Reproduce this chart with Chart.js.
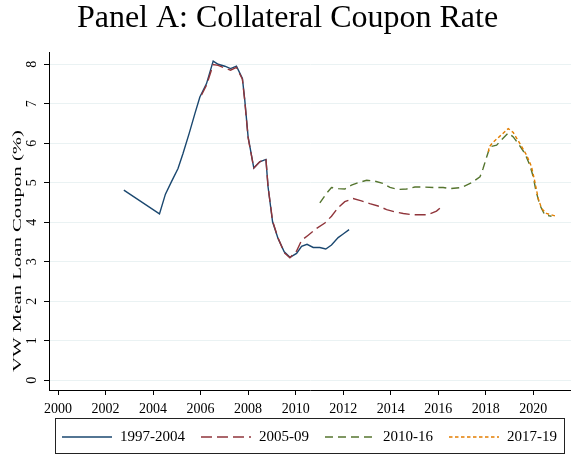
<!DOCTYPE html>
<html>
<head>
<meta charset="utf-8">
<script src="https://cdn.jsdelivr.net/npm/chart.js@4"></script>
<style>
html,body{margin:0;padding:0;background:#fff;}
canvas{display:block;}
</style>
</head>
<body>
<canvas id="c" width="571" height="455"></canvas>
<script>
const titleText = "Panel A: Collateral Coupon Rate";
const yAxisTitle = "VW Mean Loan Coupon (%)";
const seriesLabels = ["1997-2004", "2005-09", "2010-16", "2017-19"];
const xTicks = [2000, 2002, 2004, 2006, 2008, 2010, 2012, 2014, 2016, 2018, 2020];
const yTicks = [0, 1, 2, 3, 4, 5, 6, 7, 8];

const blueX = [2002.77, 2004.27, 2004.52, 2004.77, 2005.05, 2005.26, 2005.52, 2005.76, 2005.97, 2006.25, 2006.53, 2006.74, 2007.02, 2007.26, 2007.51, 2007.76, 2007.86, 2008.0, 2008.24, 2008.49, 2008.75, 2008.84, 2009.03, 2009.26, 2009.52, 2009.76, 2010.04, 2010.25, 2010.48, 2010.74, 2011.02, 2011.27, 2011.51, 2011.79, 2012.0, 2012.25];
const blueY = [4.81, 4.21, 4.71, 5.02, 5.36, 5.74, 6.25, 6.75, 7.17, 7.51, 8.08, 8.0, 7.95, 7.89, 7.95, 7.64, 7.09, 6.16, 5.37, 5.53, 5.59, 4.89, 4.01, 3.59, 3.25, 3.11, 3.21, 3.39, 3.44, 3.36, 3.36, 3.32, 3.42, 3.61, 3.70, 3.81];

const redX = [2006.04, 2006.25, 2006.53, 2006.74, 2007.02, 2007.26, 2007.51, 2007.76, 2007.86, 2008.0, 2008.24, 2008.49, 2008.75, 2008.84, 2009.03, 2009.26, 2009.52, 2009.76, 2010.04, 2010.25, 2010.53, 2010.88, 2011.23, 2011.51, 2011.79, 2012.07, 2012.42, 2012.77, 2013.12, 2013.47, 2013.83, 2014.18, 2014.53, 2014.88, 2015.23, 2015.58, 2015.93, 2016.21];
const redY = [7.22, 7.47, 7.99, 7.97, 7.9, 7.85, 7.92, 7.62, 7.07, 6.14, 5.37, 5.53, 5.6, 4.9, 4.03, 3.6, 3.23, 3.1, 3.27, 3.54, 3.67, 3.84, 3.98, 4.15, 4.37, 4.52, 4.60, 4.54, 4.47, 4.41, 4.32, 4.26, 4.22, 4.19, 4.19, 4.19, 4.28, 4.43];

const greenX = [2011.02, 2011.3, 2011.51, 2011.79, 2012.07, 2012.35, 2012.63, 2012.99, 2013.33, 2013.68, 2013.97, 2014.32, 2014.67, 2015.02, 2015.37, 2015.79, 2016.21, 2016.49, 2016.99, 2017.41, 2017.76, 2017.89, 2018.04, 2018.18, 2018.46, 2018.67, 2018.95, 2019.16, 2019.37, 2019.65, 2019.86, 2020.0, 2020.11, 2020.28, 2020.49, 2020.77];
const greenY = [4.49, 4.73, 4.88, 4.85, 4.84, 4.94, 5.0, 5.06, 5.04, 4.98, 4.88, 4.83, 4.84, 4.89, 4.89, 4.88, 4.88, 4.85, 4.88, 5.0, 5.15, 5.36, 5.65, 5.91, 5.95, 6.09, 6.26, 6.16, 5.99, 5.74, 5.44, 5.15, 4.81, 4.43, 4.18, 4.15];

const orangeX = [2018.11, 2018.15, 2018.32, 2018.6, 2018.95, 2019.16, 2019.44, 2019.72, 2019.93, 2020.07, 2020.21, 2020.35, 2020.56, 2020.98];
const orangeY = [5.78, 5.91, 6.03, 6.18, 6.37, 6.27, 5.99, 5.70, 5.40, 5.02, 4.60, 4.35, 4.22, 4.15];

function pts(xs, ys) { return xs.map((x, i) => ({x: x, y: ys[i]})); }

const FONT = '"Liberation Serif", "Times New Roman", serif';

const decorPlugin = {
  id: 'decor',
  afterDraw(chart) {
    const ctx = chart.ctx;
    const ca = chart.chartArea;
    // Title
    ctx.save();
    ctx.fillStyle = '#000';
    ctx.font = '32px ' + FONT;
    ctx.textAlign = 'center';
    ctx.textBaseline = 'alphabetic';
    ctx.fillText(titleText, 287.5, 27);
    ctx.restore();
    // Y axis title (stretched like the original)
    ctx.save();
    ctx.fillStyle = '#000';
    ctx.font = '13.5px ' + FONT;
    ctx.translate(17.5, 251);
    ctx.rotate(-Math.PI / 2);
    const tw = ctx.measureText(yAxisTitle).width;
    ctx.scale(242 / tw, 1);
    ctx.textAlign = 'center';
    ctx.textBaseline = 'middle';
    ctx.fillText(yAxisTitle, 0, 0);
    ctx.restore();
    // Legend
    ctx.save();
    ctx.font = '15px ' + FONT;
    const ds = chart.data.datasets;
    const lineLen = 50, gapLT = 8, gapItem = 16, pad = 7;
    const widths = ds.map(d => ctx.measureText(d.label).width);
    let total = 0;
    widths.forEach(w => total += lineLen + gapLT + w);
    total += gapItem * (ds.length - 1);
    const boxW = total + 2 * pad;
    const center = (ca.left + ca.right) / 2;
    const boxL = Math.round(center - boxW / 2) - 1;
    const boxTop = 418, boxH = 35;
    ctx.strokeStyle = '#222';
    ctx.lineWidth = 1;
    ctx.setLineDash([]);
    ctx.strokeRect(boxL + 0.5, boxTop + 0.5, Math.round(boxW), boxH);
    const yy = 437;
    let x = boxL + pad;
    ds.forEach((d, i) => {
      ctx.save();
      ctx.strokeStyle = d.borderColor;
      ctx.lineWidth = d.borderWidth;
      ctx.setLineDash(d.borderDash || []);
      ctx.beginPath();
      ctx.moveTo(x, yy);
      ctx.lineTo(x + lineLen, yy);
      ctx.stroke();
      ctx.restore();
      ctx.fillStyle = '#000';
      ctx.textAlign = 'left';
      ctx.textBaseline = 'middle';
      ctx.fillText(d.label, x + lineLen + gapLT, yy);
      x += lineLen + gapLT + widths[i] + gapItem;
    });
    ctx.restore();
  }
};

const lineW = 1.4;
new Chart(document.getElementById('c'), {
  type: 'line',
  data: {
    datasets: [
      {label: seriesLabels[0], data: pts(blueX, blueY), borderColor: '#1a476f', borderWidth: lineW, borderDash: [], order: 3},
      {label: seriesLabels[1], data: pts(redX, redY), borderColor: '#90353b', borderWidth: lineW, borderDash: [11, 5], order: 2},
      {label: seriesLabels[2], data: pts(greenX, greenY), borderColor: '#55752f', borderWidth: lineW, borderDash: [8, 5], order: 1},
      {label: seriesLabels[3], data: pts(orangeX, orangeY), borderColor: '#e37e00', borderWidth: lineW, borderDash: [3.5, 2.5], order: 0}
    ]
  },
  options: {
    responsive: false,
    animation: false,
    devicePixelRatio: 1,
    layout: {padding: {top: 52, right: 0, bottom: 0, left: 0}},
    elements: {point: {radius: 0}, line: {tension: 0, fill: false}},
    plugins: {legend: {display: false}, tooltip: {enabled: false}, title: {display: false}},
    scales: {
      x: {
        type: 'linear',
        min: 1999.62,
        max: 2021.59,
        afterBuildTicks: s => { s.ticks = xTicks.map(v => ({value: v})); },
        afterFit: s => { s.height = 65; },
        ticks: {
          callback: v => String(v),
          color: '#000',
          font: {family: FONT, size: 14},
          padding: 6,
          maxRotation: 0,
          minRotation: 0
        },
        grid: {drawOnChartArea: false, drawTicks: true, tickLength: 5, tickColor: '#000', tickWidth: 1},
        border: {display: true, color: '#000', width: 1}
      },
      y: {
        type: 'linear',
        min: -0.25,
        max: 8.31,
        afterBuildTicks: s => { s.ticks = yTicks.map(v => ({value: v})); },
        afterFit: s => { s.width = 49; },
        ticks: {
          callback: v => String(v),
          color: '#000',
          font: {family: FONT, size: 14},
          padding: 8,
          minRotation: 90,
          maxRotation: 90,
          crossAlign: 'center'
        },
        grid: {color: '#eaf2f3', lineWidth: 1, drawTicks: true, tickLength: 5, tickColor: '#000'},
        border: {display: true, color: '#000', width: 1}
      }
    }
  },
  plugins: [decorPlugin]
});
</script>
</body>
</html>
